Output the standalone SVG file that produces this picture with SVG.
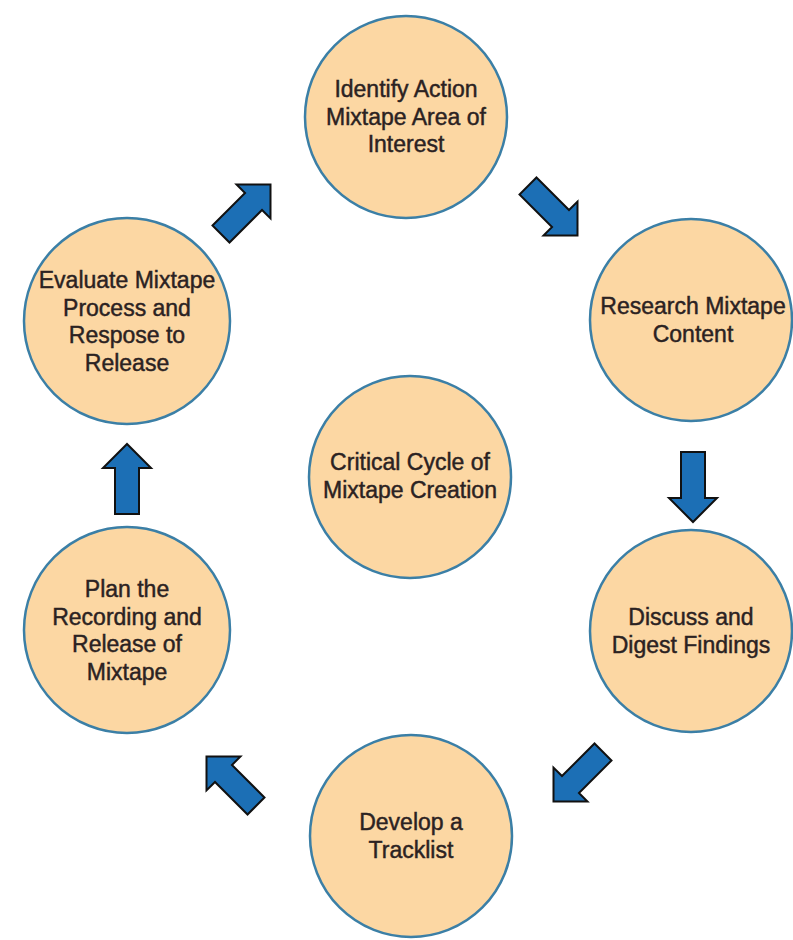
<svg xmlns="http://www.w3.org/2000/svg" width="793" height="940" viewBox="0 0 793 940">
<style>
.node circle{fill:#fcd7a3;stroke:#3b7fa6;stroke-width:2.5}
.node text{font-family:"Liberation Sans",Arial,sans-serif;font-size:23px;fill:#2b2222;stroke:#2b2222;stroke-width:0.45;text-anchor:middle}
.arrow{fill:#1c6fb5;stroke:#111;stroke-width:2;stroke-linejoin:miter}
</style>
<defs>
<path id="arr" d="M0,-12 L46,-12 L46,-24 L70,0 L46,24 L46,12 L0,12 Z"/>
</defs>
<rect width="793" height="940" fill="#ffffff"/>
<g id="connectors">
<use href="#arr" class="arrow" transform="translate(221,234) rotate(-45)"/>
<use href="#arr" class="arrow" transform="translate(528,186) rotate(45)"/>
<use href="#arr" class="arrow" transform="translate(693,452) rotate(90)"/>
<use href="#arr" class="arrow" transform="translate(603,752) rotate(135)"/>
<use href="#arr" class="arrow" transform="translate(256,806) rotate(-135)"/>
<use href="#arr" class="arrow" transform="translate(127,514) rotate(-90)"/>
</g>
<g id="n-identify" class="node">
<circle cx="406" cy="117" r="101"/>
<text x="406" y="97">Identify Action</text>
<text x="406" y="124.5">Mixtape Area of</text>
<text x="406" y="152">Interest</text>
</g>
<g id="n-research" class="node">
<circle cx="691" cy="320" r="101"/>
<text x="693" y="314">Research Mixtape</text>
<text x="693" y="341.5">Content</text>
</g>
<g id="n-discuss" class="node">
<circle cx="691" cy="631" r="101"/>
<text x="691" y="625">Discuss and</text>
<text x="691" y="652.5">Digest Findings</text>
</g>
<g id="n-develop" class="node">
<circle cx="411" cy="836" r="101"/>
<text x="411" y="830">Develop a</text>
<text x="411" y="857.5">Tracklist</text>
</g>
<g id="n-plan" class="node">
<circle cx="127" cy="630" r="103"/>
<text x="127" y="597">Plan the</text>
<text x="127" y="624.5">Recording and</text>
<text x="127" y="652">Release of</text>
<text x="127" y="679.5">Mixtape</text>
</g>
<g id="n-evaluate" class="node">
<circle cx="127" cy="321" r="103"/>
<text x="127" y="288">Evaluate Mixtape</text>
<text x="127" y="315.5">Process and</text>
<text x="127" y="343">Respose to</text>
<text x="127" y="370.5">Release</text>
</g>
<g id="n-center" class="node">
<circle cx="410" cy="477" r="101"/>
<text x="410" y="470">Critical Cycle of</text>
<text x="410" y="497.5">Mixtape Creation</text>
</g>
</svg>
